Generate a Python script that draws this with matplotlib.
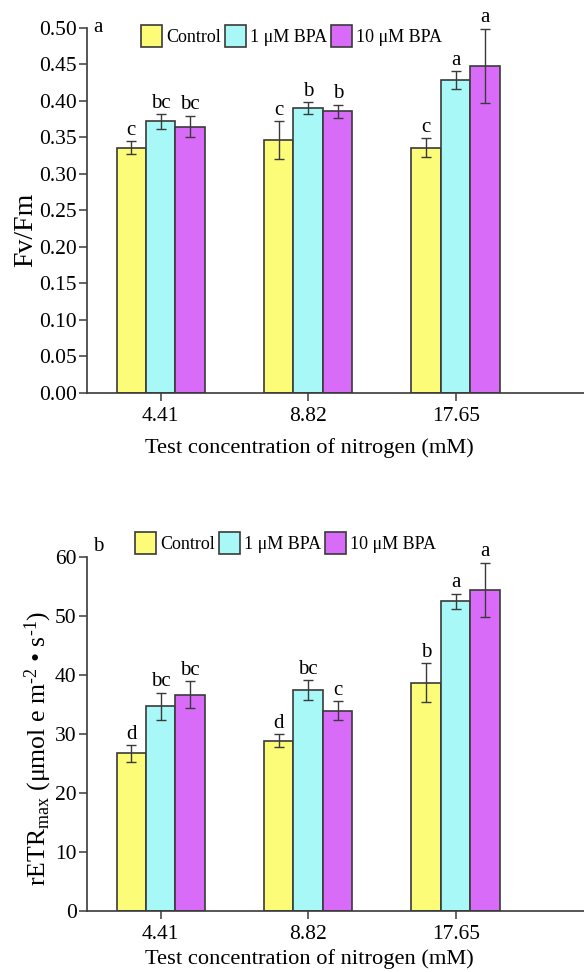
import matplotlib
matplotlib.use("Agg")
import matplotlib.pyplot as plt
import numpy as np
from matplotlib.patches import Patch

plt.rcParams['font.family'] = ['Liberation Serif', 'DejaVu Serif']
plt.rcParams['mathtext.fontset'] = 'custom'
plt.rcParams['mathtext.rm'] = 'Liberation Serif'
plt.rcParams['mathtext.it'] = 'Liberation Serif:italic'

categories = ["4.41", "8.82", "17.65"]
series = ["Control", "1 μM BPA", "10 μM BPA"]
colors = ["#FCFC78", "#A8F8F8", "#D86CF8"]

fv_control = [0.336, 0.346, 0.336]
fv_bpa1 = [0.372, 0.390, 0.429]
fv_bpa10 = [0.365, 0.386, 0.448]
fv_err_control = [0.009, 0.026, 0.013]
fv_err_bpa1 = [0.010, 0.008, 0.012]
fv_err_bpa10 = [0.015, 0.009, 0.051]
fv_letters_control = ["c", "c", "c"]
fv_letters_bpa1 = ["bc", "b", "a"]
fv_letters_bpa10 = ["bc", "b", "a"]

etr_control = [26.7, 28.8, 38.7]
etr_bpa1 = [34.7, 37.4, 52.5]
etr_bpa10 = [36.6, 33.9, 54.4]
etr_err_control = [1.4, 1.1, 3.3]
etr_err_bpa1 = [2.3, 1.7, 1.3]
etr_err_bpa10 = [2.3, 1.6, 4.6]
etr_letters_control = ["d", "d", "b"]
etr_letters_bpa1 = ["bc", "bc", "a"]
etr_letters_bpa10 = ["bc", "c", "a"]

fig = plt.figure(figsize=(5.84, 9.72), dpi=100)
ax1 = fig.add_axes([0.149, 0.5957, 0.851, 0.3755])
ax2 = fig.add_axes([0.149, 0.0631, 0.851, 0.3639])

edge = "#3a3a3a"
fs = 15.5
x = np.arange(len(categories))
w = 0.2


def draw(ax, vals, errs, letters, ylim, yticks, yfmt, ylabel, ylfs, ylab_y, panel,
         panel_y, legend_x, legend_y, ypad, xpad):
    for i, (v, e, l) in enumerate(zip(vals, errs, letters)):
        xs = x + (i - 1) * w
        ax.bar(xs, v, width=w, color=colors[i], edgecolor=edge, linewidth=1.2, zorder=2)
        ax.errorbar(xs, v, yerr=e, fmt='none', ecolor=edge, elinewidth=1.0,
                    capsize=3.5, capthick=1.0, zorder=3)
        for xi, vi, ei, li in zip(xs, v, e, l):
            ax.annotate(li, (xi, vi + ei), xytext=(0, 1.0), textcoords='offset points',
                        ha='center', va='bottom', fontsize=15)
    ax.set_xlim(-0.5, 2.87)
    ax.set_ylim(*ylim)
    ax.set_yticks(yticks)
    ax.set_yticklabels([yfmt.format(t) for t in yticks])
    ax.set_xticks(x)
    ax.set_xticklabels(categories)
    for s in ['top', 'right']:
        ax.spines[s].set_visible(False)
    for s in ['left', 'bottom']:
        ax.spines[s].set_linewidth(1.2)
        ax.spines[s].set_color(edge)
    ax.tick_params(axis='both', direction='out', length=5.5, width=1.1, color=edge,
                   labelsize=fs, pad=2)
    ax.tick_params(axis='x', pad=4.5)
    ax.set_xlabel("Test concentration of nitrogen (mM)", fontsize=16.2, labelpad=xpad)
    ax.xaxis.label.set_x(0.447)
    ax.set_ylabel(ylabel, fontsize=ylfs, labelpad=ypad)
    ax.yaxis.label.set_y(ylab_y)
    ax.text(0.012, panel_y, panel, transform=ax.transAxes, fontsize=15, ha='left', va='center')
    handles = [Patch(facecolor=c, edgecolor=edge, linewidth=1.2) for c in colors]
    ax.legend(handles, series, loc='center', bbox_to_anchor=(legend_x, legend_y), ncol=3,
              frameon=False, fontsize=13, handlelength=1.15, handleheight=1.5,
              handletextpad=0.25, columnspacing=0.2, borderaxespad=0)


draw(ax1, [fv_control, fv_bpa1, fv_bpa10], [fv_err_control, fv_err_bpa1, fv_err_bpa10],
     [fv_letters_control, fv_letters_bpa1, fv_letters_bpa10],
     (0, 0.5), np.arange(0, 0.501, 0.05), "{:.2f}", "Fv/Fm", 20, 0.447, "a", 1.0,
     0.412, 0.978, 0.5, 9)
draw(ax2, [etr_control, etr_bpa1, etr_bpa10], [etr_err_control, etr_err_bpa1, etr_err_bpa10],
     [etr_letters_control, etr_letters_bpa1, etr_letters_bpa10],
     (0, 60), np.arange(0, 61, 10), "{:.0f}",
     r"rETR$_{\mathrm{max}}$ (μmol e m$^{\text{-2}}$ • s$^{\text{-1}}$)", 18.5, 0.46, "b", 1.03,
     0.40, 1.04, 0.5, 4)

fig.savefig("out.png", dpi=100)
